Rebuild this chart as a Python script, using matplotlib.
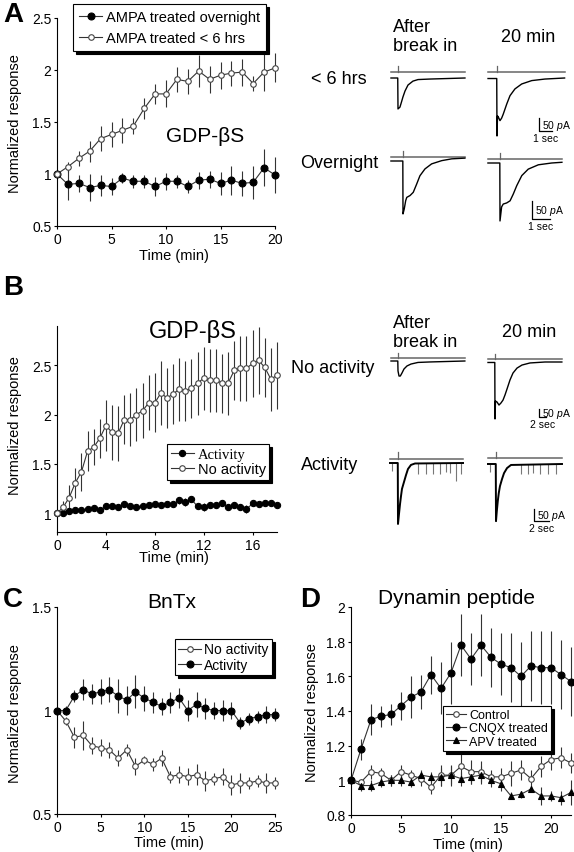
import numpy as np
import matplotlib
matplotlib.use('Agg')
import matplotlib.pyplot as plt

plt.rcParams['font.family'] = ['Liberation Sans', 'DejaVu Sans']
plt.rcParams['mathtext.fontset'] = 'custom'
plt.rcParams['mathtext.rm'] = 'Liberation Sans'
plt.rcParams['mathtext.it'] = 'Liberation Sans:italic'
plt.rcParams['axes.linewidth'] = 0.8

W, H = 574, 853

# ---- panel A : GDP-bS, AMPA treated ----
a_time = np.arange(21)
a_night = [1.00, 0.90, 0.91, 0.87, 0.89, 0.88, 0.96, 0.93, 0.93, 0.88, 0.93,
           0.93, 0.88, 0.94, 0.95, 0.91, 0.94, 0.91, 0.92, 1.06, 0.99]
a_night_err = [0, 0.15, 0.08, 0.13, 0.10, 0.08, 0.05, 0.06, 0.06, 0.09, 0.08,
               0.06, 0.06, 0.08, 0.08, 0.11, 0.14, 0.12, 0.16, 0.18, 0.17]
a_short = [1.00, 1.07, 1.15, 1.22, 1.34, 1.38, 1.42, 1.46, 1.63, 1.77, 1.77,
           1.91, 1.89, 1.99, 1.91, 1.95, 1.97, 1.98, 1.87, 1.98, 2.02]
a_short_err = [0, 0.05, 0.07, 0.10, 0.12, 0.12, 0.12, 0.08, 0.10, 0.10, 0.13,
               0.12, 0.12, 0.15, 0.13, 0.13, 0.12, 0.13, 0.07, 0.18, 0.14]

# ---- panel B : GDP-bS, activity / no activity ----
b_time = np.arange(37) * 0.5
b_noact = [1.00, 1.06, 1.16, 1.31, 1.42, 1.63, 1.67, 1.76, 1.89, 1.82, 1.81,
           1.95, 1.95, 2.00, 2.04, 2.12, 2.12, 2.22, 2.17, 2.21, 2.26, 2.24,
           2.27, 2.32, 2.37, 2.35, 2.35, 2.32, 2.32, 2.45, 2.47, 2.47, 2.52,
           2.55, 2.48, 2.36, 2.40]
b_noact_err = [0, 0.06, 0.13, 0.15, 0.19, 0.20, 0.18, 0.20, 0.26, 0.28, 0.28,
               0.25, 0.27, 0.27, 0.28, 0.28, 0.30, 0.32, 0.30, 0.30, 0.32, 0.30,
               0.30, 0.32, 0.32, 0.32, 0.32, 0.30, 0.32, 0.30, 0.33, 0.33, 0.34,
               0.34, 0.30, 0.32, 0.34]
b_act = [1.00, 1.00, 1.02, 1.03, 1.03, 1.04, 1.05, 1.03, 1.07, 1.07, 1.06,
         1.09, 1.07, 1.06, 1.07, 1.08, 1.09, 1.08, 1.09, 1.09, 1.13, 1.11,
         1.14, 1.07, 1.06, 1.08, 1.08, 1.10, 1.06, 1.08, 1.06, 1.04, 1.10,
         1.09, 1.10, 1.10, 1.08]
b_act_err = [0, 0.02, 0.02, 0.02, 0.02, 0.02, 0.02, 0.02, 0.03, 0.02, 0.03,
             0.02, 0.03, 0.02, 0.02, 0.02, 0.02, 0.03, 0.02, 0.02, 0.04, 0.04,
             0.03, 0.03, 0.04, 0.03, 0.03, 0.03, 0.03, 0.03, 0.03, 0.04, 0.03,
             0.02, 0.02, 0.02, 0.02]

# ---- panel C : BnTx ----
c_time = np.arange(26)
c_noact = [1.00, 0.95, 0.87, 0.88, 0.83, 0.82, 0.81, 0.77, 0.81, 0.73, 0.76,
           0.74, 0.77, 0.68, 0.69, 0.68, 0.69, 0.66, 0.67, 0.68, 0.64, 0.65,
           0.65, 0.66, 0.65, 0.65]
c_noact_err = [0, 0.02, 0.05, 0.07, 0.04, 0.04, 0.04, 0.04, 0.03, 0.04, 0.02,
               0.03, 0.04, 0.03, 0.04, 0.04, 0.05, 0.05, 0.03, 0.04, 0.05, 0.05,
               0.03, 0.03, 0.05, 0.03]
c_act = [1.00, 1.00, 1.07, 1.10, 1.08, 1.09, 1.10, 1.07, 1.05, 1.09, 1.06,
         1.04, 1.02, 1.04, 1.06, 1.00, 1.03, 1.01, 1.00, 1.00, 1.00, 0.94,
         0.96, 0.97, 0.98, 0.98]
c_act_err = [0, 0.02, 0.03, 0.05, 0.05, 0.06, 0.06, 0.08, 0.07, 0.08, 0.06,
             0.05, 0.04, 0.05, 0.05, 0.05, 0.06, 0.05, 0.04, 0.05, 0.04, 0.03,
             0.03, 0.03, 0.04, 0.03]

# ---- panel D : dynamin peptide ----
d_time = np.arange(23)
d_ctrl = [1.00, 0.99, 1.05, 1.04, 1.00, 1.05, 1.03, 1.01, 0.96, 1.03, 1.03,
          1.08, 1.05, 1.05, 1.02, 1.02, 1.04, 1.06, 1.01, 1.08, 1.12, 1.13, 1.10]
d_ctrl_err = [0, 0.02, 0.04, 0.03, 0.03, 0.04, 0.03, 0.04, 0.04, 0.06, 0.06,
              0.07, 0.07, 0.06, 0.04, 0.05, 0.07, 0.06, 0.05, 0.06, 0.06, 0.06, 0.06]
d_cnqx = [1.00, 1.18, 1.35, 1.37, 1.38, 1.43, 1.48, 1.51, 1.61, 1.53, 1.62,
          1.78, 1.70, 1.78, 1.71, 1.67, 1.65, 1.60, 1.66, 1.65, 1.65, 1.61, 1.57]
d_cnqx_err = [0, 0.06, 0.09, 0.06, 0.06, 0.08, 0.12, 0.10, 0.11, 0.15, 0.18,
              0.18, 0.15, 0.18, 0.17, 0.18, 0.20, 0.20, 0.20, 0.21, 0.21, 0.20, 0.20]
d_apv = [1.00, 0.97, 0.97, 0.99, 1.00, 1.00, 0.99, 1.03, 1.02, 1.02, 1.03,
         1.01, 1.02, 1.03, 1.00, 0.98, 0.91, 0.92, 0.95, 0.91, 0.91, 0.90, 0.93]
d_apv_err = [0, 0.03, 0.03, 0.03, 0.03, 0.03, 0.03, 0.03, 0.03, 0.05, 0.05,
             0.04, 0.04, 0.05, 0.04, 0.04, 0.02, 0.02, 0.02, 0.05, 0.03, 0.04, 0.07]

# ---- example sweeps (time in s from stimulus, current in pA) ----
a1_t = [-0.54, -0.02, 0.0, 0.15, 0.27, 0.38, 0.54, 0.77, 1.15, 1.54, 2.46, 5.15]
a1_i = [0, 0, -119, -112, -92, -73, -50, -27, -12, -6, -4, 0]
a2_t = [-0.69, -0.02, 0.0, 0.04, 0.10, 0.23, 0.36, 0.48, 0.75, 1.0, 1.38,
        1.9, 2.67, 3.69, 5.2]
a2_i = [-2, -2, -223, -146, -150, -164, -154, -139, -100, -68, -42, -23, -10, -4, 0]
a3_t = [-0.67, -0.01, 0.0, 0.07, 0.15, 0.21, 0.39, 0.57, 0.76, 0.94, 1.22,
        1.59, 2.15, 2.71, 3.44]
a3_i = [0, 0, -147, -133, -110, -101, -96, -87, -64, -41, -22, -8, 1, 6, 8]
a4_t = [-0.67, -0.01, 0.0, 0.09, 0.18, 0.37, 0.56, 0.74, 0.93, 1.21, 1.57,
        2.13, 2.87, 3.44]
a4_i = [0, 0, -161, -122, -114, -111, -105, -86, -63, -35, -17, -5, 0, 2]
b1_t = [-2.0, -0.06, 0.0, 0.29, 0.66, 1.14, 1.71, 2.57, 3.71, 5.71, 9.14, 19.1]
b1_i = [0, 0, -62, -94, -94, -75, -50, -31, -19, -9, -6, 0]
b2_t = [-2.0, -0.06, 0.0, 0.14, 0.57, 1.14, 1.71, 2.29, 2.86, 3.43, 4.29,
        5.14, 6.29, 7.71, 10.0, 14.3, 19.1]
b2_i = [-3, -3, -356, -244, -250, -269, -256, -238, -206, -169, -112, -69,
        -38, -19, -6, 0, 0]
b3_t = [-1.07, -0.03, 0.0, 0.13, 0.27, 0.40, 0.53, 0.80, 1.07, 1.33, 1.73, 2.27, 8.67]
b3_i = [0, 0, -254, -213, -171, -138, -108, -79, -50, -25, -8, -2, 0]
b3_ev_t = [-0.8, 2.67, 3.73, 4.67, 5.6, 6.4, 6.93, 7.73, 8.4]
b3_ev_a = [-33, -46, -46, -46, -46, -38, -40, -75, -46]
b4_t = [-1.07, -0.03, 0.0, 0.11, 0.24, 0.37, 0.53, 0.80, 1.07, 1.47, 2.0, 8.8]
b4_i = [0, 0, -238, -196, -154, -121, -92, -63, -38, -17, -4, 0]
b4_ev_t = [-0.8, 3.33, 4.27, 4.93, 5.87, 6.93, 8.0]
b4_ev_a = [-33, -42, -42, -38, -42, -42, -42]


fig = plt.figure(figsize=(W / 100, H / 100), dpi=100)


def px_box(left, top, right, bottom):
    return [left / W, 1 - bottom / H, (right - left) / W, (bottom - top) / H]


def ftext(x, y, s, **kw):
    fig.text(x / W, 1 - y / H, s, ha=kw.pop('ha', 'center'), va=kw.pop('va', 'center'), **kw)


def chart_axes(box, xlim, ylim, xticks, yticks):
    ax = fig.add_axes(px_box(*box))
    ax.set_xlim(*xlim)
    ax.set_ylim(*ylim)
    ax.set_xticks(xticks)
    ax.set_yticks(yticks)
    ax.yaxis.set_major_formatter(matplotlib.ticker.FormatStrFormatter('%g'))
    for s in ('top', 'right'):
        ax.spines[s].set_visible(False)
    ax.tick_params(direction='out', length=2.5, width=0.8, labelsize=10, pad=1.5)
    return ax


def series(ax, x, y, err, label, filled=True, marker='o', ms=5):
    cont = ax.errorbar(x, y, yerr=err, fmt='none', ecolor='#333', elinewidth=0.8,
                       capsize=0, zorder=2)
    for lc in cont.lines[2]:
        lc.set_clip_on(False)
    ax.plot(x, y, '-', color='#333', lw=0.8, marker=marker, ms=ms,
            mfc='black' if filled else 'white', mec='black' if filled else '#444',
            mew=0.8, label=label, zorder=3, clip_on=False)


def legend_at(ax, x, y, size, spacing=0.1, pad=0.25):
    leg = ax.legend(loc='upper left', bbox_to_anchor=(x / W, 1 - y / H),
                    bbox_transform=fig.transFigure, borderaxespad=0, fontsize=size,
                    fancybox=False, edgecolor='black', framealpha=1,
                    shadow={'color': 'black', 'alpha': 1},
                    handlelength=1.6, handletextpad=0.25, labelspacing=spacing,
                    borderpad=pad)
    leg.get_frame().set_linewidth(0.8)
    return leg


def sweep_axes(x0, y0, px_s, px_pa):
    # x0, y0: pixel position of the stimulus on the baseline
    ax = fig.add_axes(px_box(x0 - 14, y0 - 16, x0 + 80, y0 + 75))
    ax.set_xlim(-14 / px_s, 80 / px_s)
    ax.set_ylim(-75 / px_pa, 16 / px_pa)
    ax.axis('off')
    return ax


def draw_sweep(ax, t, cur, cmd, ev_t=(), ev_a=(), lw=1.0):
    ax.plot([t[0], t[-1]], [cmd[0], cmd[0]], color='#666', lw=1.1)
    ax.plot([0, 0], [cmd[0], cmd[1]], color='#666', lw=0.9)
    if len(ev_t):
        ax.vlines(ev_t, 0, ev_a, color='#777', lw=0.8)
    ax.plot(t, cur, color='black', lw=lw)


def scale_bar(ax, x, y, dx, dy, xlab, ylab):
    ax.plot([x, x, x + dx], [y + dy, y, y], color='black', lw=0.9, clip_on=False)
    ax.annotate(ylab, (x, y + dy / 2), xytext=(2, 0), textcoords='offset points',
                ha='left', va='center', fontsize=7.5)
    ax.annotate(xlab, (x + dx / 2, y), xytext=(0, -1.5), textcoords='offset points',
                ha='center', va='top', fontsize=7.5)


# ================= panel A =================
ax = chart_axes((57, 19, 275, 227), (0, 20), (0.5, 2.5), [0, 5, 10, 15, 20],
                [0.5, 1, 1.5, 2, 2.5])
series(ax, a_time, a_night, a_night_err, 'AMPA treated overnight', True, ms=5)
series(ax, a_time, a_short, a_short_err, 'AMPA treated < 6 hrs', False, ms=4)
legend_at(ax, 73, 5, 10.5, spacing=0.5, pad=0.4)
ftext(205, 137, 'GDP-\u03b2S', fontsize=15)
ftext(15, 124, 'Normalized response', rotation=90, fontsize=10.5)
ftext(174, 256, 'Time (min)', fontsize=10.5)
ftext(13, 15, 'A', fontsize=20, fontweight='bold')

ftext(393, 37, 'After\nbreak in', ha='left', fontsize=13)
ftext(528, 38, '20 min', fontsize=13)
ftext(339, 80, '< 6 hrs', fontsize=13)
ftext(339, 163, 'Overnight', fontsize=13)

sa = sweep_axes(398, 79, 13, 0.26)
draw_sweep(sa, a1_t, a1_i, (23, 46))
sa = sweep_axes(497, 79, 13, 0.26)
draw_sweep(sa, a2_t, a2_i, (23, 46))
scale_bar(sa, 3.23, -204, 1, 50, '1 sec', '50 $\\it{p}$A')
sa = sweep_axes(403, 162, 18, 0.36)
draw_sweep(sa, a3_t, a3_i, (11, 28))
sa = sweep_axes(500, 164, 18, 0.36)
draw_sweep(sa, a4_t, a4_i, (11, 28))
scale_bar(sa, 1.78, -156, 1, 50, '1 sec', '50 $\\it{p}$A')

# ================= panel B =================
ax = chart_axes((57, 327, 277, 533), (0, 18), (0.81, 2.9), [0, 4, 8, 12, 16],
                [1, 1.5, 2, 2.5])
series(ax, b_time, b_act, b_act_err, 'Activity', True, ms=4.5)
series(ax, b_time, b_noact, b_noact_err, 'No activity', False, ms=4)
leg = legend_at(ax, 167, 445, 10.5)
leg.get_texts()[0].set_fontfamily('Liberation Serif')
ftext(193, 332, 'GDP-\u03b2S', fontsize=17)
ftext(15, 426, 'Normalized response', rotation=90, fontsize=10.5)
ftext(174, 558, 'Time (min)', fontsize=10.5)
ftext(13, 288, 'B', fontsize=20, fontweight='bold')

ftext(393, 333, 'After\nbreak in', ha='left', fontsize=13)
ftext(529, 333, '20 min', fontsize=13)
ftext(333, 369, 'No activity', fontsize=13)
ftext(330, 466, 'Activity', fontsize=13)

sa = sweep_axes(398, 362, 3.5, 0.16)
draw_sweep(sa, b1_t, b1_i, (19, 50))
sa = sweep_axes(495, 363, 3.5, 0.16)
draw_sweep(sa, b2_t, b2_i, (19, 50))
scale_bar(sa, 12.6, -344, 2, 50, '2 sec', '50 $\\it{p}$A')
sa = sweep_axes(398, 464, 7.5, 0.24)
draw_sweep(sa, b3_t, b3_i, (17, 46), b3_ev_t, b3_ev_a, lw=1.4)
sa = sweep_axes(496, 465, 7.5, 0.24)
draw_sweep(sa, b4_t, b4_i, (25, 50), b4_ev_t, b4_ev_a, lw=1.4)
scale_bar(sa, 5.07, -237, 2, 50, '2 sec', '50 $\\it{p}$A')

# ================= panel C =================
ax = chart_axes((57, 608, 275, 815), (0, 25), (0.5, 1.5), [0, 5, 10, 15, 20, 25],
                [0.5, 1, 1.5])
series(ax, c_time, c_noact, c_noact_err, 'No activity', False, ms=4)
series(ax, c_time, c_act, c_act_err, 'Activity', True, ms=5)
legend_at(ax, 175, 640, 10)
ftext(172, 603, 'BnTx', fontsize=15)
ftext(15, 714, 'Normalized response', rotation=90, fontsize=10.5)
ftext(169, 843, 'Time (min)', fontsize=10.5)
ftext(13, 600, 'C', fontsize=20, fontweight='bold')

# ================= panel D =================
ax = chart_axes((351, 608, 571, 816), (0, 22), (0.8, 2.0), [0, 5, 10, 15, 20],
                [0.8, 1, 1.2, 1.4, 1.6, 1.8, 2])
series(ax, d_time, d_ctrl, d_ctrl_err, 'Control', False, ms=4)
series(ax, d_time, d_cnqx, d_cnqx_err, 'CNQX treated', True, ms=5)
series(ax, d_time, d_apv, d_apv_err, 'APV treated', True, marker='^', ms=4.5)
legend_at(ax, 443, 707, 9)
ftext(457, 598, 'Dynamin peptide', fontsize=15)
ftext(312, 713, 'Normalized response', rotation=90, fontsize=10.5)
ftext(468, 845, 'Time (min)', fontsize=10.5)
ftext(310, 600, 'D', fontsize=20, fontweight='bold')

fig.savefig('out.png', dpi=100)
